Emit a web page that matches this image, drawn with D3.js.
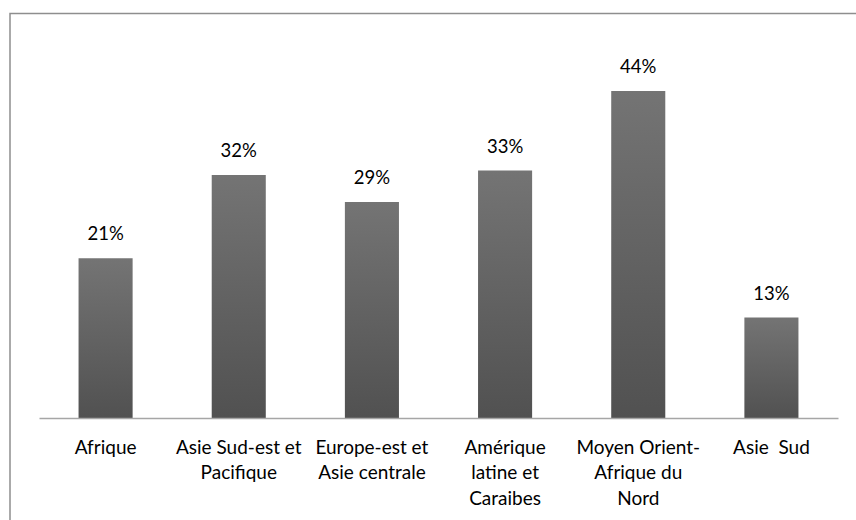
<!DOCTYPE html>
<html>
<head>
<meta charset="utf-8">
<script src="https://d3js.org/d3.v7.min.js"></script>
<style>
  body { margin: 0; background: #fff; }
  svg { display: block; }
  text { font-family: Lato, "Open Sans", sans-serif; fill: #000; }
</style>
</head>
<body>
<svg></svg>
<script>
// regions (label lines) and shares in %
var categories = [
  ["Afrique"],
  ["Asie Sud-est et", "Pacifique"],
  ["Europe-est et", "Asie centrale"],
  ["Amérique", "latine et", "Caraibes"],
  ["Moyen Orient-", "Afrique du", "Nord"],
  ["Asie\u00a0 Sud"]
];
var values = [21.3, 32.4, 28.8, 33.0, 43.6, 13.4];
var valueLabels = ["21%", "32%", "29%", "33%", "44%", "13%"];

var width = 856, height = 520;
var left = 39, right = 838, baseline = 418;

var svg = d3.select("svg")
  .attr("width", width)
  .attr("height", height);

var defs = svg.append("defs");
var grad = defs.append("linearGradient")
  .attr("id", "barGrad")
  .attr("x1", 0).attr("y1", 0).attr("x2", 0).attr("y2", 1);
grad.append("stop").attr("offset", "0%").attr("stop-color", "#747474");
grad.append("stop").attr("offset", "100%").attr("stop-color", "#515151");

// chart frame (cropped at right and bottom)
svg.append("rect")
  .attr("x", 10).attr("y", 13.5)
  .attr("width", 900).attr("height", 600)
  .attr("fill", "none")
  .attr("stroke", "#8e8e8e")
  .attr("stroke-width", 1.5);

var idx = d3.range(categories.length);

var x = d3.scaleBand()
  .domain(idx)
  .range([left, right])
  .paddingInner(0.594)
  .paddingOuter(0.297);

var y = d3.scaleLinear()
  .domain([0, 50])
  .range([baseline, baseline - 375]);

svg.selectAll("rect.bar")
  .data(idx)
  .enter()
  .append("rect")
  .attr("class", "bar")
  .attr("x", function(i) { return x(i); })
  .attr("y", function(i) { return y(values[i]); })
  .attr("width", x.bandwidth())
  .attr("height", function(i) { return y(0) - y(values[i]); })
  .attr("fill", "url(#barGrad)");

// value labels
svg.selectAll("text.val")
  .data(idx)
  .enter()
  .append("text")
  .attr("class", "val")
  .attr("x", function(i) { return x(i) + x.bandwidth() / 2; })
  .attr("y", function(i) { return y(values[i]) - 18; })
  .attr("text-anchor", "middle")
  .style("font-size", "18.5px")
  .text(function(i) { return valueLabels[i]; });

// x axis
var xAxis = d3.axisBottom(x).tickSize(0).tickFormat("");
var ax = svg.append("g")
  .attr("transform", "translate(0," + baseline + ")")
  .call(xAxis);
ax.select(".domain")
  .attr("stroke", "#a6a6a6")
  .attr("stroke-width", 1.5);

// category labels, one tspan per line
var cat = svg.selectAll("text.cat")
  .data(idx)
  .enter()
  .append("text")
  .attr("class", "cat")
  .attr("text-anchor", "middle")
  .style("font-size", "19px")
  .attr("transform", function(i) {
    return "translate(" + (x(i) + x.bandwidth() / 2) + "," + (baseline + 35.5) + ")";
  });
cat.selectAll("tspan")
  .data(function(i) { return categories[i]; })
  .enter()
  .append("tspan")
  .attr("x", 0)
  .attr("y", function(d, j) { return j * 25.5; })
  .text(function(d) { return d; });
</script>
</body>
</html>
